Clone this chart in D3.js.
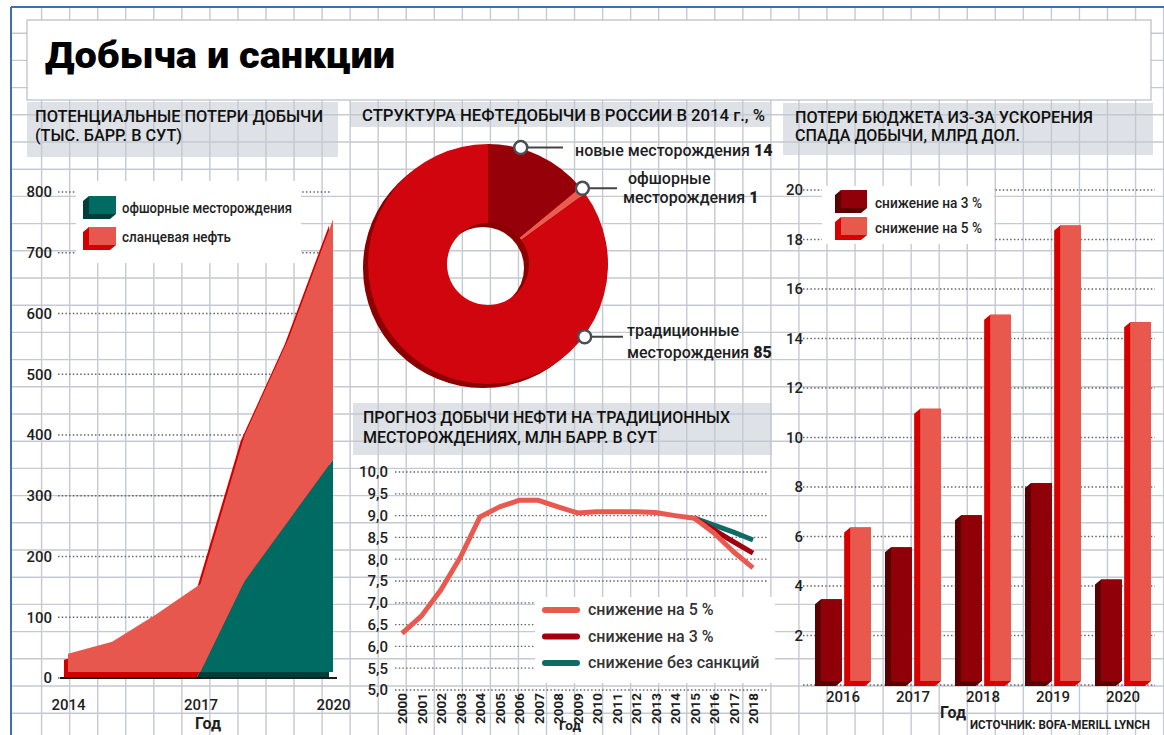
<!DOCTYPE html>
<html>
<head>
<meta charset="utf-8">
<script src="https://cdn.jsdelivr.net/npm/d3@7"></script>
<style>
body { margin: 0; background: #fff; }
svg { display: block; }
text { font-family: Roboto, "DejaVu Sans", sans-serif; fill: #1e1e1e; }
</style>
</head>
<body>
<div id="chart"></div>
<script>
var width = 1164;
var height = 735;

// --- area chart: potential production losses
var areaYears = [2014, 2015, 2016, 2017, 2018, 2019, 2020];
var offshoreLoss = [0, 0, 0, 0, 150, 250, 350];
var shaleLoss = [30, 50, 95, 145, 240, 300, 395];
var areaTicks = [0, 100, 200, 300, 400, 500, 600, 700, 800];
var areaYearLabels = [2014, 2017, 2020];

// --- donut: structure of production 2014
var structureNames = ["новые месторождения", "офшорные месторождения", "традиционные месторождения"];
var structureShares = [14, 1, 85];

// --- line chart: forecast for traditional fields
var lineYears = [2000, 2001, 2002, 2003, 2004, 2005, 2006, 2007, 2008, 2009,
                 2010, 2011, 2012, 2013, 2014, 2015, 2016, 2017, 2018];
var drop5 = [6.3, 6.7, 7.3, 8.05, 8.97, 9.2, 9.35, 9.35, 9.2, 9.06,
             9.09, 9.09, 9.09, 9.07, 9.0, 8.94, 8.6, 8.17, 7.8];
var forecastYears = [2015, 2016, 2017, 2018];
var drop3 = [8.94, 8.67, 8.4, 8.14];
var noSanctions = [8.94, 8.78, 8.62, 8.44];
var lineTicks = [5, 5.5, 6, 6.5, 7, 7.5, 8, 8.5, 9, 9.5, 10];

// --- bars: budget losses
var budgetYears = [2016, 2017, 2018, 2019, 2020];
var budget3 = [3.3, 5.4, 6.7, 8.0, 4.1];
var budget5 = [6.2, 11.0, 14.8, 18.4, 14.5];
var budgetTicks = [2, 4, 6, 8, 10, 12, 14, 16, 18, 20];

var svg = d3.select("#chart").append("svg")
    .attr("width", width)
    .attr("height", height);

// background grid
var grid = svg.append("g");
for (var gx = 41.6; gx < width; gx += 28.05) {
    grid.append("line").attr("x1", gx).attr("x2", gx).attr("y1", 7).attr("y2", height)
        .attr("stroke", "#c4c9d2").attr("stroke-width", 1.4);
}
for (var gy = 33.2; gy < height; gy += 27.2) {
    grid.append("line").attr("x1", 11).attr("x2", width).attr("y1", gy).attr("y2", gy)
        .attr("stroke", "#c4c9d2").attr("stroke-width", 1.4);
}
svg.append("line").attr("x1", 11).attr("x2", width).attr("y1", 7).attr("y2", 7)
    .attr("stroke", "#3f6fb0").attr("stroke-width", 2);
svg.append("line").attr("x1", 11).attr("x2", 11).attr("y1", 7).attr("y2", height)
    .attr("stroke", "#3f6fb0").attr("stroke-width", 2);

// title banner
svg.append("rect").attr("x", 27).attr("y", 20).attr("width", 1124).attr("height", 80)
    .attr("fill", "#fff").attr("stroke", "#b8bcc4").attr("stroke-width", 1.2);
svg.append("text").attr("x", 45).attr("y", 68)
    .attr("textLength", 350).attr("lengthAdjust", "spacingAndGlyphs")
    .style("font-size", "37px").style("font-weight", 900).style("fill", "#000")
    .text("Добыча и санкции");

// section headers
function header(x, y, w, h, lines) {
    svg.append("rect").attr("x", x).attr("y", y).attr("width", w).attr("height", h)
        .attr("fill", "#c3c8cf").attr("fill-opacity", 0.55);
    lines.forEach(function(l) {
        svg.append("text").attr("x", l[0]).attr("y", l[1])
            .attr("textLength", l[2]).attr("lengthAdjust", "spacingAndGlyphs")
            .style("font-size", "16px").style("font-weight", 500).style("fill", "#111")
            .text(l[3]);
    });
}
header(27, 102, 311, 55, [[35, 122, 288, "ПОТЕНЦИАЛЬНЫЕ ПОТЕРИ ДОБЫЧИ"], [35, 141, 147, "(ТЫС. БАРР. В СУТ)"]]);
header(350, 102, 420, 25, [[362, 121, 403, "СТРУКТУРА НЕФТЕДОБЫЧИ В РОССИИ В 2014 г., %"]]);
header(783, 103, 370, 52, [[795, 123, 298, "ПОТЕРИ БЮДЖЕТА ИЗ-ЗА УСКОРЕНИЯ"], [795, 141, 225, "СПАДА ДОБЫЧИ, МЛРД ДОЛ."]]);
header(353, 403, 419, 52, [[363, 423, 367, "ПРОГНОЗ ДОБЫЧИ НЕФТИ НА ТРАДИЦИОННЫХ"], [363, 443, 294, "МЕСТОРОЖДЕНИЯХ, МЛН БАРР. В СУТ"]]);

// 3D legend swatch
function swatch(x, y, w, h, front, side) {
    svg.append("polygon")
        .attr("points", [[x, y + 5], [x + 6, y], [x + w, y], [x + w, y + h - 5], [x + w - 6, y + h], [x, y + h]].join(" "))
        .attr("fill", side);
    svg.append("rect").attr("x", x + 6).attr("y", y).attr("width", w - 6).attr("height", h - 5)
        .attr("fill", front);
}

// ================= area chart =================
var ax = d3.scaleLinear().domain([2014, 2020]).range([64, 329]);
var ay = d3.scaleLinear().domain([0, 800]).range([678, 192]);

areaTicks.forEach(function(t) {
    svg.append("line").attr("x1", 58).attr("x2", 330).attr("y1", ay(t)).attr("y2", ay(t))
        .attr("stroke", "#666").attr("stroke-width", 1.3).attr("stroke-dasharray", "1.5,2.2");
});
svg.append("g").attr("transform", "translate(52,0)")
    .call(d3.axisLeft(ay).tickValues(areaTicks).tickSize(0).tickPadding(0))
    .call(function(g) { g.select(".domain").remove(); })
    .selectAll("text").style("font-size", "15px").style("font-weight", 500)
    .style("fill", "#1e1e1e").style("font-family", "Roboto, sans-serif");

svg.append("rect").attr("x", 76).attr("y", 181).attr("width", 225).attr("height", 82).attr("fill", "#fff");

var stackData = areaYears.map(function(yr, i) {
    return { year: yr, offshore: offshoreLoss[i], shale: shaleLoss[i] };
});
var stacked = d3.stack().keys(["offshore", "shale"])(stackData);
var areaGen = d3.area()
    .x(function(d) { return ax(d.data.year); })
    .y0(function(d) { return ay(d[0]); })
    .y1(function(d) { return ay(d[1]); });
var backCol = { offshore: "#003e39", shale: "#d20000" };
var frontCol = { offshore: "#006b62", shale: "#e8574d" };

var backG = svg.append("g");
var frontG = svg.append("g").attr("transform", "translate(4,-6)");
stacked.forEach(function(s) {
    backG.append("path").datum(s).attr("d", areaGen).attr("fill", backCol[s.key]);
});
stacked.forEach(function(s) {
    frontG.append("path").datum(s).attr("d", areaGen).attr("fill", frontCol[s.key]);
});
svg.append("line").attr("x1", 60).attr("x2", 337).attr("y1", 678).attr("y2", 678)
    .attr("stroke", "#1a1a1a").attr("stroke-width", 2);

svg.append("g").attr("transform", "translate(4,710)")
    .call(d3.axisBottom(ax).tickValues(areaYearLabels).tickFormat(d3.format("d")).tickSize(0).tickPadding(0))
    .call(function(g) { g.select(".domain").remove(); })
    .selectAll("text").attr("dy", 0).style("font-size", "15px").style("font-weight", 500)
    .style("fill", "#1e1e1e").style("font-family", "Roboto, sans-serif");
svg.append("text").attr("x", 208).attr("y", 729).attr("text-anchor", "middle")
    .style("font-size", "16px").style("font-weight", 700).text("Год");

swatch(83, 196, 33, 23, "#006b62", "#003e39");
swatch(83, 227, 33, 23, "#e8574d", "#d20000");
svg.append("text").attr("x", 122).attr("y", 213).style("font-size", "15px").style("font-weight", 500)
    .attr("textLength", 170).attr("lengthAdjust", "spacingAndGlyphs").text("офшорные месторождения");
svg.append("text").attr("x", 122).attr("y", 242).style("font-size", "15px").style("font-weight", 500)
    .attr("textLength", 109).attr("lengthAdjust", "spacingAndGlyphs").text("сланцевая нефть");

// ================= donut =================
var cx = 488, cy = 264, rOut = 120, rIn = 41;
var pie = d3.pie().sort(null).value(function(d) { return d; });
var arcs = pie(structureShares);
var arcGen = d3.arc().innerRadius(rIn).outerRadius(rOut);
var sliceCol = ["#960008", "#ec5b4f", "#d0050d"];

var donutBack = svg.append("g").attr("transform", "translate(" + (cx - 5) + "," + (cy + 4) + ")");
donutBack.append("path")
    .attr("d", d3.arc().innerRadius(rIn).outerRadius(rOut).startAngle(0).endAngle(2 * Math.PI)())
    .attr("fill", "#8c0000");
var donut = svg.append("g").attr("transform", "translate(" + cx + "," + cy + ")");
donut.selectAll("path").data(arcs).join("path")
    .attr("d", arcGen).attr("fill", function(d, i) { return sliceCol[i]; });

// callouts
var callouts = [
    { deg: 15.7, x2: 563, lines: [[575, 156, "новые месторождения ", structureShares[0]]] },
    { deg: 51.3, x2: 617, lines: [[628, 184, "офшорные", null], [623, 203, "месторождения ", structureShares[1]]] },
    { deg: 127, x2: 623, lines: [[627, 336, "традиционные", null], [627, 358, "месторождения ", structureShares[2]]] }
];
callouts.forEach(function(c) {
    var a = c.deg * Math.PI / 180;
    var px = cx + Math.sin(a) * (rOut + 1);
    var py = cy - Math.cos(a) * (rOut + 1);
    svg.append("line").attr("x1", px).attr("x2", c.x2).attr("y1", py).attr("y2", py)
        .attr("stroke", "#444").attr("stroke-width", 2);
    svg.append("circle").attr("cx", px).attr("cy", py).attr("r", 6.5)
        .attr("fill", "#fff").attr("stroke", "#4a4f55").attr("stroke-width", 2.5);
    c.lines.forEach(function(l) {
        var t = svg.append("text").attr("x", l[0]).attr("y", l[1])
            .style("font-size", "16px").style("font-weight", 500);
        t.append("tspan").text(l[2]);
        if (l[3] !== null) t.append("tspan").style("font-weight", 900).text(l[3]);
    });
});

// ================= line chart =================
var lx = d3.scaleLinear().domain([2000, 2018]).range([402, 753]);
var ly = d3.scaleLinear().domain([5, 10]).range([690, 472]);
var commaFmt = function(v) { return d3.format(".1f")(v).replace(".", ","); };

lineTicks.forEach(function(t) {
    svg.append("line").attr("x1", 395).attr("x2", 767).attr("y1", ly(t)).attr("y2", ly(t))
        .attr("stroke", "#666").attr("stroke-width", 1.3).attr("stroke-dasharray", "1.5,2.2");
});
svg.append("g").attr("transform", "translate(388,0)")
    .call(d3.axisLeft(ly).tickValues(lineTicks).tickFormat(commaFmt).tickSize(0).tickPadding(0))
    .call(function(g) { g.select(".domain").remove(); })
    .selectAll("text").style("font-size", "15px").style("font-weight", 500)
    .style("fill", "#1e1e1e").style("font-family", "Roboto, sans-serif");

svg.append("g").attr("transform", "translate(0,693)")
    .call(d3.axisBottom(lx).tickValues(lineYears).tickFormat(d3.format("d")).tickSize(0).tickPadding(0))
    .call(function(g) { g.select(".domain").remove(); })
    .selectAll("text")
    .attr("transform", "rotate(-90)").attr("text-anchor", "end").attr("x", 0).attr("y", 0).attr("dy", "0.36em")
    .style("font-size", "13.5px").style("font-weight", 700)
    .style("fill", "#1e1e1e").style("font-family", "Roboto, sans-serif");
svg.append("text").attr("x", 570).attr("y", 730).attr("text-anchor", "middle")
    .style("font-size", "13.5px").style("font-weight", 700).text("Год");

svg.append("rect").attr("x", 535).attr("y", 597).attr("width", 240).attr("height", 86).attr("fill", "#fff");

var lineGen = d3.line().x(function(d) { return lx(d[0]); }).y(function(d) { return ly(d[1]); });
var lineSeries = [
    { pts: forecastYears.map(function(y, i) { return [y, noSanctions[i]]; }), col: "#0e6b66" },
    { pts: forecastYears.map(function(y, i) { return [y, drop3[i]]; }), col: "#a3000f" },
    { pts: lineYears.map(function(y, i) { return [y, drop5[i]]; }), col: "#e85a4f" }
];
lineSeries.forEach(function(s) {
    svg.append("path").attr("d", lineGen(s.pts)).attr("fill", "none")
        .attr("stroke", s.col).attr("stroke-width", 5).attr("stroke-linejoin", "round");
});

var lineLegend = [["снижение на 5 %", "#e85a4f"], ["снижение на 3 %", "#a3000f"], ["снижение без санкций", "#0e6b66"]];
lineLegend.forEach(function(l, i) {
    var yy = 610 + i * 26.5;
    svg.append("line").attr("x1", 545).attr("x2", 577).attr("y1", yy).attr("y2", yy)
        .attr("stroke", l[1]).attr("stroke-width", 6).attr("stroke-linecap", "round");
    svg.append("text").attr("x", 588).attr("y", yy + 5).style("font-size", "16px").style("font-weight", 500)
        .style("fill", "#333").text(l[0]);
});

// ================= bar chart =================
var bx = d3.scaleBand().domain(budgetYears).range([808, 1158]);
var bInner = d3.scaleBand().domain(["d3", "d5"]).range([7, 63]).paddingInner(0.08);
var by = d3.scaleLinear().domain([0, 20]).range([685, 190]);

[0].concat(budgetTicks).forEach(function(t) {
    svg.append("line").attr("x1", 803).attr("x2", 1155).attr("y1", by(t)).attr("y2", by(t))
        .attr("stroke", "#666").attr("stroke-width", 1.3).attr("stroke-dasharray", "1.5,2.2");
});
svg.append("g").attr("transform", "translate(803,0)")
    .call(d3.axisLeft(by).tickValues(budgetTicks).tickSize(0).tickPadding(0))
    .call(function(g) { g.select(".domain").remove(); })
    .selectAll("text").style("font-size", "15px").style("font-weight", 500)
    .style("fill", "#1e1e1e").style("font-family", "Roboto, sans-serif");

svg.append("rect").attr("x", 822).attr("y", 186).attr("width", 172).attr("height", 58).attr("fill", "#fff");

var barSeries = [
    { key: "d3", vals: budget3, front: "#900008", side: "#5a0000" },
    { key: "d5", vals: budget5, front: "#e8584c", side: "#d60000" }
];
barSeries.forEach(function(s) {
    budgetYears.forEach(function(yr, i) {
        var x0 = bx(yr) + bInner(s.key);
        var w = bInner.bandwidth();
        var top = by(s.vals[i]);
        var base = by(0);
        svg.append("polygon")
            .attr("points", [[x0, top + 1], [x0 + 6, top - 4], [x0 + w, top - 4], [x0 + w, base - 4], [x0 + w - 6, base + 1], [x0, base + 1]].join(" "))
            .attr("fill", s.side);
        svg.append("rect").attr("x", x0 + 6).attr("y", top - 4).attr("width", w - 6).attr("height", base - top)
            .attr("fill", s.front);
    });
});

svg.append("g").attr("transform", "translate(0,702)")
    .call(d3.axisBottom(bx).tickSize(0).tickPadding(0))
    .call(function(g) { g.select(".domain").remove(); })
    .selectAll("text").attr("dy", 0).style("font-size", "15px").style("font-weight", 500)
    .style("fill", "#1e1e1e").style("font-family", "Roboto, sans-serif");
svg.append("text").attr("x", 953).attr("y", 718).attr("text-anchor", "middle")
    .style("font-size", "16px").style("font-weight", 700).text("Год");
svg.append("text").attr("x", 970).attr("y", 729)
    .attr("textLength", 180).attr("lengthAdjust", "spacingAndGlyphs")
    .style("font-size", "12.5px").style("font-weight", 700).text("ИСТОЧНИК: BOFA-MERILL LYNCH");

swatch(835, 190, 32, 23, "#900008", "#5a0000");
swatch(835, 217, 32, 23, "#e8584c", "#d60000");
svg.append("text").attr("x", 875).attr("y", 208).style("font-size", "14px").style("font-weight", 500)
    .attr("textLength", 107).attr("lengthAdjust", "spacingAndGlyphs").text("снижение на 3 %");
svg.append("text").attr("x", 875).attr("y", 233).style("font-size", "14px").style("font-weight", 500)
    .attr("textLength", 107).attr("lengthAdjust", "spacingAndGlyphs").text("снижение на 5 %");
</script>
</body>
</html>
